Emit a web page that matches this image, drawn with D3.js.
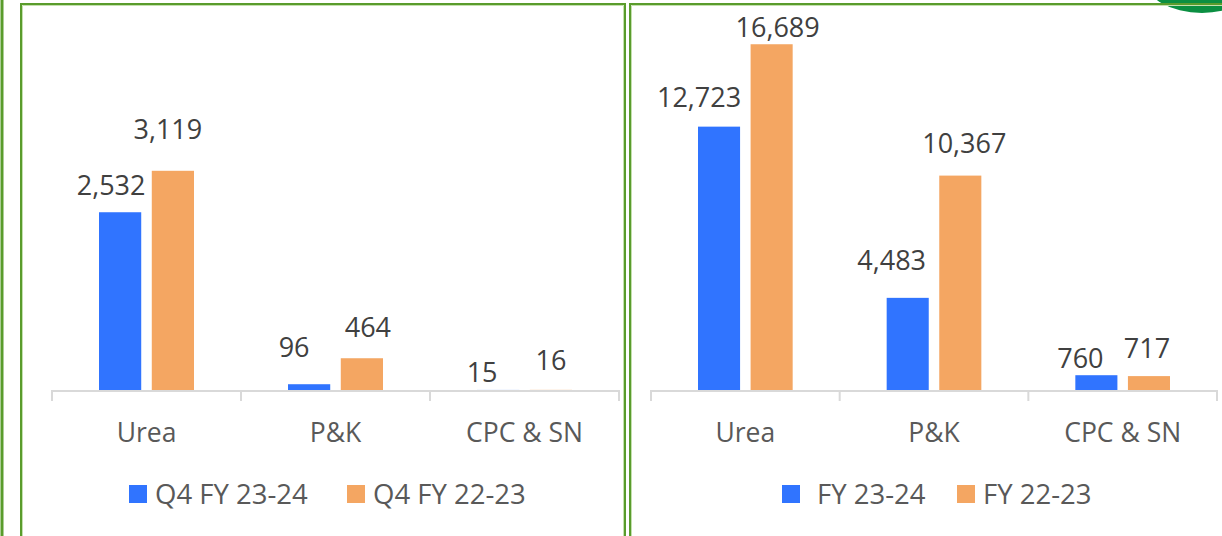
<!DOCTYPE html>
<html>
<head>
<meta charset="utf-8">
<script src="https://cdn.jsdelivr.net/npm/d3@7"></script>
<style>
  body { margin: 0; background: #fff; }
  svg { display: block; font-family: "Open Sans", sans-serif; }
</style>
</head>
<body>
<script>
// data
let categories = ['Urea', 'P&K', 'CPC & SN'];

let quarterSeries = ['Q4 FY 23-24', 'Q4 FY 22-23'];
let quarterCurrent = [2532, 96, 15];
let quarterPrevious = [3119, 464, 16];

let yearSeries = ['FY 23-24', 'FY 22-23'];
let yearCurrent = [12723, 4483, 760];
let yearPrevious = [16689, 10367, 717];

// label nudges (px) as placed in the original
let quarterNudge = [[[-9, -27], [-5, -41]], [[-15, -37], [6, -31]], [[-16, -17], [0, -29]]];
let yearNudge = [[[-20, -29], [6, -17]], [[-16, -37], [4, -32]], [[-16, -17], [-2, -28]]];

let W = 1222, H = 536;
let blue = '#3074ff', orange = '#f4a662';
let green = '#5a9c2c';

let svg = d3.select('body').append('svg')
  .attr('width', W).attr('height', H);

// far-left border line and decorative arc
svg.append('line').attr('x1', 2).attr('x2', 2).attr('y1', 0).attr('y2', H)
  .attr('stroke', green).attr('stroke-width', 3);
svg.append('ellipse').attr('cx', 1202).attr('cy', -22).attr('rx', 58).attr('ry', 35)
  .attr('fill', '#0b8f42');

let panel = (x0, x1, curr, prev, names, nudge, yMax, yTop, legendPos) =>
{
  // frame
  let frame = svg.append('g');
  frame.append('path')
    .attr('d', `M${x0},${H + 5}V4H${x1}V${H + 5}`)
    .attr('fill', 'none').attr('stroke', green).attr('stroke-width', 2);
  frame.append('path')
    .attr('d', `M${x0 + 1.5},${H + 5}V5.5H${x1 - 1.5}V${H + 5}`)
    .attr('fill', 'none').attr('stroke', '#c4e0ae').attr('stroke-width', 1);

  let baseline = 391;
  let xScale = d3.scaleBand().domain(categories).range(legendPos.axis);
  let xInner = d3.scaleBand().domain([0, 1])
    .range([47, xScale.bandwidth() - 47]).paddingInner(0.2);
  let yScale = d3.scaleLinear().domain([0, yMax]).range([baseline, yTop]);

  let rows = categories.map((c, i) => ({ c: c, i: i, vals: [curr[i], prev[i]] }));
  let g = svg.append('g');

  let grp = g.selectAll('g.cat').data(rows).enter().append('g')
    .attr('transform', d => 'translate(' + xScale(d.c) + ',0)');

  grp.selectAll('rect')
    .data(d => d.vals.map((v, k) => ({ v: v, k: k, i: d.i })))
    .enter().append('rect')
    .attr('x', d => xInner(d.k))
    .attr('width', xInner.bandwidth())
    .attr('y', d => yScale(d.v))
    .attr('height', d => baseline - yScale(d.v))
    .attr('fill', d => d.k === 0 ? blue : orange);

  grp.selectAll('text')
    .data(d => d.vals.map((v, k) => ({ v: v, k: k, i: d.i })))
    .enter().append('text')
    .attr('x', d => xInner(d.k) + xInner.bandwidth() / 2 + nudge[d.i][d.k][0])
    .attr('y', d => yScale(d.v) + nudge[d.i][d.k][1] + 9.5)
    .attr('text-anchor', 'middle')
    .attr('font-size', 27)
    .attr('fill', '#404040')
    .text(d => d3.format(',')(d.v));

  // axis
  let axis = g.append('g').attr('transform', 'translate(0,' + baseline + ')')
    .call(d3.axisBottom(xScale).tickSize(0).tickPadding(32));
  axis.select('.domain').attr('stroke', '#d9d9d9').attr('stroke-width', 2)
    .attr('d', `M${legendPos.axis[0]},10V0H${legendPos.axis[1]}V10`);
  axis.selectAll('.tick text').attr('font-size', 26.5).attr('fill', '#595959')
    .attr('font-family', '"Open Sans", sans-serif');
  let edges = categories.slice(1).map(c => xScale(c));
  axis.selectAll('line.sep').data(edges).enter().append('line')
    .attr('x1', d => d).attr('x2', d => d).attr('y1', 0).attr('y2', 10)
    .attr('stroke', '#d9d9d9').attr('stroke-width', 2);

  // legend
  let leg = g.selectAll('g.leg').data(names).enter().append('g')
    .attr('transform', (d, i) => 'translate(' + legendPos.items[i] + ',485)');
  leg.append('rect').attr('width', 18).attr('height', 18)
    .attr('fill', (d, i) => i === 0 ? blue : orange);
  leg.append('text').attr('x', (d, i) => legendPos.gap[i]).attr('y', 18.5)
    .attr('font-size', 27.5).attr('fill', '#595959').text(d => d);
};

panel(21, 625, quarterCurrent, quarterPrevious, quarterSeries, quarterNudge, 5000, 38,
  { axis: [52, 619], items: [129, 347], gap: [26, 26] });
panel(630, W + 10, yearCurrent, yearPrevious, yearSeries, yearNudge, 18000, 17,
  { axis: [651, 1217], items: [782, 957], gap: [35, 26] });
</script>
</body>
</html>
